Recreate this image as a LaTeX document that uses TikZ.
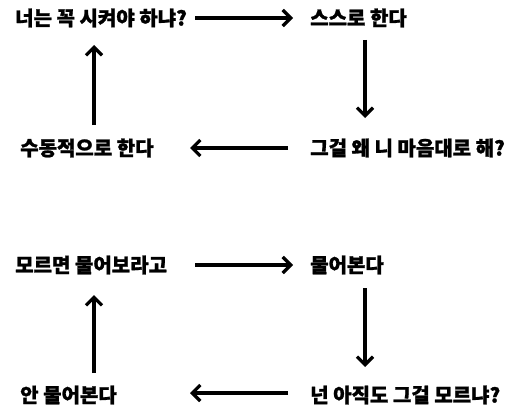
\documentclass[tikz,border=0pt]{standalone}
\usepackage{fontspec}
\setmainfont{Noto Sans CJK KR}[BoldFeatures={FakeBold=1.2}]
\usetikzlibrary{arrows.meta,calc}
\begin{document}
\begin{tikzpicture}[x=1pt,y=-1pt,
  lbl/.style={anchor=west,inner sep=0pt,font=\fontsize{20}{24}\selectfont\bfseries},
  arr/.style={line width=3.2pt,-{Straight Barb[length=8pt,width=16pt,line width=3.2pt]}}]
\useasboundingbox[fill=white] (0,0) rectangle (516,412);
% top cycle
\node[lbl] (a1) at (15,18) {너는 꼭 시켜야 하냐?};
\node[lbl] (a2) at (310,18) {스스로 한다};
\node[lbl] (a3) at (310,148) {그걸 왜 니 마음대로 해?};
\node[lbl] (a4) at (20,148) {수동적으로 한다};
\draw[arr] ([xshift=180pt]a1.west) -- ([xshift=-17pt]a2.west);
\draw[arr] ([xshift=55pt,yshift=-22pt]a2.west) -- ([xshift=55pt,yshift=30pt]a3.west);
\draw[arr] ([xshift=-22pt]a3.west) -- ([xshift=170pt]a4.west);
\draw[arr] ([xshift=74pt,yshift=23pt]a4.west) -- ([xshift=79pt,yshift=-27pt]a1.west);
% bottom cycle
\node[lbl] (b1) at (15,265) {모르면 물어보라고};
\node[lbl] (b2) at (310,265) {물어본다};
\node[lbl] (b3) at (310,395) {넌 아직도 그걸 모르냐?};
\node[lbl] (b4) at (20,395) {안 물어본다};
\draw[arr] ([xshift=180pt]b1.west) -- ([xshift=-17pt]b2.west);
\draw[arr] ([xshift=55pt,yshift=-23pt]b2.west) -- ([xshift=55pt,yshift=28pt]b3.west);
\draw[arr] ([xshift=-22pt,yshift=2pt]b3.west) -- ([xshift=170pt,yshift=2pt]b4.west);
\draw[arr] ([xshift=74pt,yshift=22pt]b4.west) -- ([xshift=79pt,yshift=-30pt]b1.west);
\end{tikzpicture}
\end{document}
